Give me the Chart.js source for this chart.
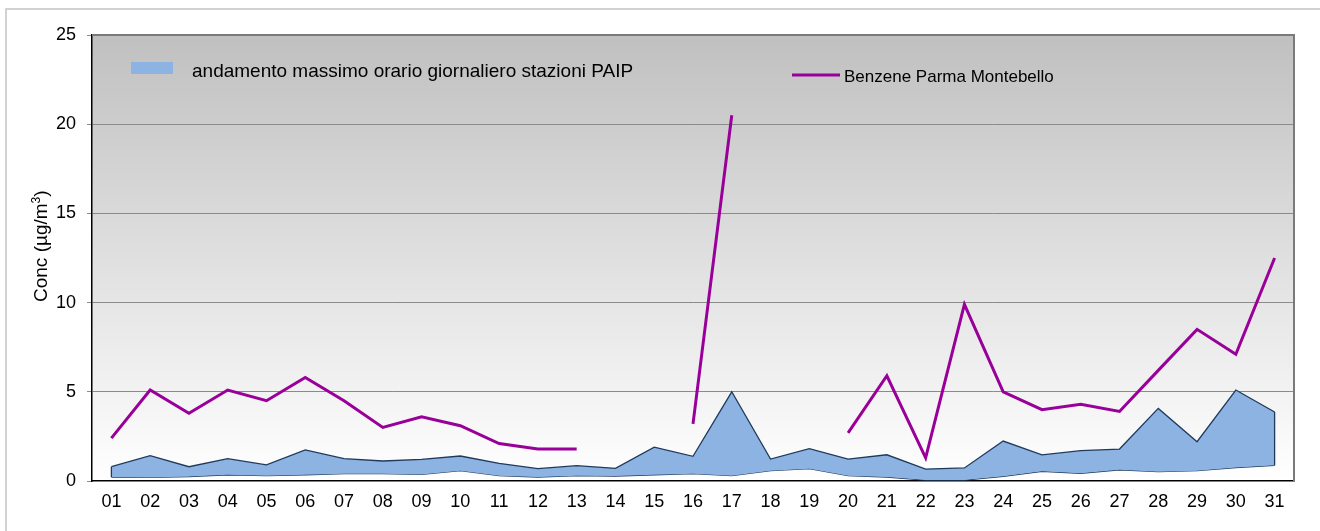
<!DOCTYPE html>
<html>
<head>
<meta charset="utf-8">
<script src="https://cdn.jsdelivr.net/npm/chart.js@4/dist/chart.umd.min.js"></script>
<style>
html,body{margin:0;padding:0;background:#fff;}
#wrap{width:1320px;height:531px;position:relative;}
</style>
</head>
<body>
<div id="wrap"><canvas id="c" width="1320" height="531"></canvas></div>
<script>
const days = ['01','02','03','04','05','06','07','08','09','10','11','12','13','14','15','16','17','18','19','20','21','22','23','24','25','26','27','28','29','30','31'];
const bandMin = [0.22,0.2,0.25,0.35,0.3,0.35,0.41,0.41,0.37,0.58,0.3,0.22,0.3,0.28,0.35,0.41,0.3,0.58,0.69,0.3,0.22,0.05,0.05,0.26,0.54,0.43,0.63,0.52,0.58,0.75,0.88];
const bandMax = [0.8,1.42,0.8,1.25,0.9,1.74,1.25,1.12,1.21,1.4,0.99,0.69,0.86,0.71,1.9,1.38,5.0,1.23,1.81,1.23,1.47,0.67,0.73,2.24,1.46,1.7,1.79,4.07,2.2,5.1,3.87];
const benzene = [2.4,5.1,3.8,5.1,4.5,5.8,4.5,3.0,3.6,3.1,2.1,1.8,1.8,null,null,3.2,20.5,null,null,2.7,5.9,1.3,9.9,5.0,4.0,4.3,3.9,6.2,8.5,7.1,12.5];
const yTicks = [0,5,10,15,20,25];
const bandLabel = 'andamento massimo orario giornaliero stazioni PAIP';
const lineLabel = 'Benzene Parma Montebello';

const FONT = '"Liberation Sans", Arial, sans-serif';
const BAND_FILL = '#8DB3E2';
const BAND_EDGE = '#1F3A5C';
const PURPLE = '#990099';

const deco = {
  id: 'deco',
  beforeDraw(chart) {
    const {ctx, chartArea: a} = chart;
    ctx.save();
    const g = ctx.createLinearGradient(0, a.top, 0, a.bottom);
    g.addColorStop(0, '#C0C0C0');
    g.addColorStop(1, '#FFFFFF');
    ctx.fillStyle = g;
    ctx.fillRect(a.left, a.top, a.right - a.left, a.bottom - a.top);
    ctx.restore();
  },
  afterDatasetsDraw(chart) {
    const {ctx, chartArea: a, scales} = chart;
    const x = scales.x, y = scales.y;
    ctx.save();
    ctx.strokeStyle = BAND_EDGE;
    ctx.lineWidth = 1.3;
    [0, days.length - 1].forEach(i => {
      const px = x.getPixelForValue(i);
      ctx.beginPath();
      ctx.moveTo(px, y.getPixelForValue(bandMin[i]));
      ctx.lineTo(px, y.getPixelForValue(bandMax[i]));
      ctx.stroke();
    });
    ctx.strokeStyle = '#7a7a7a';
    ctx.lineWidth = 2;
    ctx.beginPath();
    ctx.moveTo(a.left, a.top);
    ctx.lineTo(a.right, a.top);
    ctx.lineTo(a.right, a.bottom);
    ctx.stroke();
    ctx.restore();
  },
  afterDraw(chart) {
    const {ctx} = chart;
    ctx.save();
    ctx.strokeStyle = '#c4c4c4';
    ctx.lineWidth = 1.5;
    ctx.beginPath();
    ctx.moveTo(6, 531);
    ctx.lineTo(6, 9);
    ctx.lineTo(1320, 9);
    ctx.stroke();
    ctx.fillStyle = BAND_FILL;
    ctx.fillRect(131, 62, 42, 12);
    ctx.fillStyle = '#000';
    ctx.font = '19px ' + FONT;
    ctx.textBaseline = 'alphabetic';
    ctx.textAlign = 'left';
    ctx.fillText(bandLabel, 192, 77);
    ctx.strokeStyle = PURPLE;
    ctx.lineWidth = 3;
    ctx.beginPath();
    ctx.moveTo(792, 75);
    ctx.lineTo(840, 75);
    ctx.stroke();
    ctx.font = '17px ' + FONT;
    ctx.fillText(lineLabel, 844, 82);
    ctx.translate(47, 302);
    ctx.rotate(-Math.PI / 2);
    ctx.font = '19px ' + FONT;
    const t1 = 'Conc (\u00B5g/m';
    ctx.fillText(t1, 0, 0);
    let w = ctx.measureText(t1).width;
    ctx.font = '12px ' + FONT;
    ctx.fillText('3', w, -7);
    w += ctx.measureText('3').width;
    ctx.font = '19px ' + FONT;
    ctx.fillText(')', w, 0);
    ctx.restore();
  }
};

new Chart(document.getElementById('c'), {
  type: 'line',
  data: {
    labels: days,
    datasets: [
      {label: 'min', data: bandMin, borderColor: BAND_EDGE, borderWidth: 1.3, pointRadius: 0, fill: false, tension: 0, order: 3},
      {label: bandLabel, data: bandMax, borderColor: BAND_EDGE, borderWidth: 1.3, pointRadius: 0, fill: '-1', backgroundColor: BAND_FILL, tension: 0, order: 2},
      {label: lineLabel, data: benzene, borderColor: PURPLE, borderWidth: 3, pointRadius: 0, fill: false, spanGaps: false, tension: 0, order: 1}
    ]
  },
  options: {
    responsive: false,
    animation: false,
    devicePixelRatio: 1,
    layout: {padding: {left: 0, right: 26, top: 35, bottom: 0}},
    plugins: {legend: {display: false}, tooltip: {enabled: false}},
    scales: {
      x: {
        type: 'category',
        offset: true,
        grid: {display: false, drawTicks: false},
        border: {display: true, color: '#000', width: 1.5},
        ticks: {color: '#000', font: {family: FONT, size: 18}, padding: 10, maxRotation: 0, autoSkip: false},
        afterFit(s) { s.height = 50; }
      },
      y: {
        min: 0, max: 25,
        afterBuildTicks(s) { s.ticks = yTicks.map(v => ({value: v})); },
        grid: {
          color: c => (c.tick && c.tick.value === 0) ? 'rgba(0,0,0,0)' : '#8a8a8a',
          tickColor: '#8a8a8a',
          tickLength: 5,
          lineWidth: 1
        },
        border: {display: true, color: '#000', width: 1.5},
        ticks: {color: '#000', font: {family: FONT, size: 18}, padding: 11},
        afterFit(s) { s.width = 92; }
      }
    }
  },
  plugins: [deco]
});
</script>
</body>
</html>
